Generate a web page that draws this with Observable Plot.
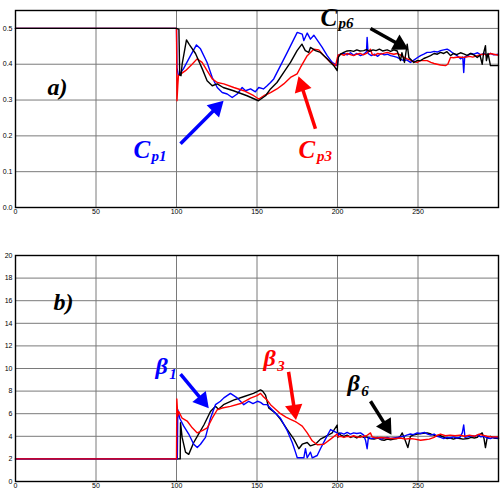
<!DOCTYPE html>
<html><head><meta charset="utf-8">
<script src="https://cdn.jsdelivr.net/npm/d3@7"></script>
<script src="https://cdn.jsdelivr.net/npm/@observablehq/plot@0.6"></script>
<style>
html,body{margin:0;padding:0;background:#fff;overflow:hidden;height:489px}
svg{display:block}
</style>
</head><body><div id="top"></div><div id="bottom"></div>
<script>
// ---- tick labels ----
const xTicks = [0, 50, 100, 150, 200, 250];
const cpTicks = [0, 0.1, 0.2, 0.3, 0.4, 0.5];
const betaTicks = [0, 2, 4, 6, 8, 10, 12, 14, 16, 18, 20];

// ---- panel a) power coefficients ----
const cp1 = [[0,0.5],[100,0.5],[100.3,0.39],[101.2,0.368],[104.3,0.387],[108.7,0.424],[112.4,0.454],[114.9,0.443],[119,0.405],[122.2,0.363],[125.3,0.335],[128.4,0.321],[131.5,0.317],[134.6,0.307],[137.7,0.317],[140.8,0.335],[142.9,0.326],[146,0.331],[149,0.323],[151.1,0.335],[154,0.331],[156.3,0.34],[158.4,0.349],[160.4,0.359],[164.6,0.396],[168.8,0.433],[172.9,0.47],[175,0.489],[178.1,0.484],[179.1,0.466],[181.2,0.487],[183.2,0.47],[185.3,0.481],[188.4,0.461],[190.5,0.447],[193.6,0.424],[196.7,0.405],[199.8,0.396],[200.5,0.425],[201.9,0.428],[204,0.43],[206,0.426],[208.1,0.432],[210,0.425],[212,0.43],[214.3,0.424],[216.3,0.428],[218,0.435],[218.4,0.475],[219,0.43],[221,0.424],[223,0.428],[225,0.422],[227,0.43],[229,0.426],[230.9,0.428],[233,0.424],[235,0.422],[237.1,0.419],[239,0.414],[241.2,0.41],[243,0.412],[245.3,0.405],[247,0.41],[249.5,0.418],[251.6,0.424],[253.6,0.428],[255.7,0.433],[257.8,0.433],[260,0.436],[262,0.434],[264,0.438],[266,0.44],[268.1,0.442],[270,0.437],[272,0.43],[274,0.425],[276.4,0.415],[277.8,0.42],[278.4,0.377],[279,0.42],[281,0.425],[283,0.43],[284.7,0.428],[287,0.432],[289,0.426],[291,0.43],[293,0.425],[295,0.43],[297,0.426],[300,0.428]];
const cp3 = [[0,0.5],[100,0.5],[100.3,0.298],[100.8,0.34],[101.2,0.368],[105.6,0.382],[109.7,0.4],[112.8,0.415],[115.9,0.405],[119,0.382],[122.2,0.359],[125.3,0.349],[129.4,0.345],[135.6,0.335],[141.8,0.326],[148,0.312],[151.1,0.303],[154.2,0.312],[158.4,0.321],[162.4,0.331],[166.6,0.345],[170.8,0.363],[174.9,0.373],[177,0.391],[181.2,0.424],[185.3,0.442],[188.4,0.44],[191.5,0.424],[195.7,0.405],[198.8,0.396],[200.3,0.425],[202,0.428],[204,0.425],[206,0.43],[208,0.427],[210,0.424],[212,0.428],[214,0.43],[216,0.426],[218,0.43],[220.5,0.442],[221.5,0.428],[223,0.425],[225,0.43],[227,0.428],[230.9,0.433],[233,0.43],[235,0.428],[237,0.43],[239,0.426],[241,0.42],[243.3,0.415],[245,0.412],[247,0.408],[249.5,0.405],[251.6,0.41],[253.6,0.41],[255.7,0.41],[258,0.405],[260,0.402],[261.9,0.4],[264,0.398],[267.1,0.396],[268.5,0.4],[270.2,0.419],[272,0.418],[275,0.42],[278.4,0.419],[280,0.42],[282,0.422],[284,0.42],[286.8,0.424],[289,0.427],[291,0.428],[293,0.425],[295,0.43],[297,0.428],[300,0.425]];
const cp6 = [[0,0.5],[100,0.5],[101.5,0.497],[102,0.37],[102.8,0.368],[103.5,0.4],[106.2,0.468],[108,0.455],[111.8,0.43],[116,0.387],[119,0.354],[122.2,0.34],[125.3,0.345],[129,0.335],[135.4,0.326],[143.8,0.312],[150.9,0.298],[155.3,0.312],[158.4,0.331],[162.4,0.349],[166.6,0.377],[170.8,0.405],[174.9,0.438],[177.9,0.456],[180,0.438],[182.1,0.433],[183.2,0.447],[186.3,0.438],[189.4,0.433],[193.6,0.415],[197.7,0.396],[199.8,0.382],[200.5,0.419],[201.9,0.428],[203.9,0.433],[206,0.437],[208.1,0.438],[210,0.436],[212,0.44],[214,0.437],[216.3,0.438],[218,0.441],[220,0.436],[222,0.44],[224,0.438],[226,0.442],[228,0.437],[230.9,0.44],[233,0.436],[235,0.44],[237.1,0.437],[239.1,0.41],[240,0.432],[241.6,0.405],[242.4,0.43],[243.3,0.456],[244.3,0.419],[247.4,0.405],[249.5,0.41],[251.6,0.41],[253.6,0.416],[255.7,0.42],[257.8,0.424],[260,0.43],[262,0.428],[264,0.433],[266,0.43],[268,0.435],[270.2,0.424],[272,0.43],[274,0.427],[276.4,0.432],[278.4,0.429],[280.5,0.425],[282.6,0.43],[284.7,0.426],[286.8,0.419],[288.5,0.425],[289.9,0.4],[290.7,0.43],[291.9,0.452],[292.5,0.41],[293.5,0.43],[295,0.396],[299.2,0.396],[300,0.397]];

// ---- panel b) pitch angles ----
const beta1 = [[0,2],[100.5,2],[100.8,6.35],[102,5.6],[104.5,4.9],[107.6,4.2],[110.7,3.3],[112.9,3.0],[114.9,3.3],[118,3.9],[121.1,5.6],[124.2,6.8],[127.3,7.1],[129.4,7.4],[133.5,7.8],[137.7,7.4],[141.8,6.8],[144.9,7.1],[147.5,6.9],[150.3,7.1],[152.2,7.0],[154,6.8],[156.3,6.8],[160.4,6.2],[164.6,5.6],[168.8,4.5],[171.9,3.45],[173.9,2.6],[175,2.1],[179.1,2.1],[180.1,2.9],[181.2,2.1],[183.2,2.6],[184.3,2.1],[187.4,2.3],[189.4,2.9],[192.5,3.75],[195.7,4.6],[199.8,4.3],[200.5,4.1],[202,4.3],[204,4.2],[206,4.35],[208,4.2],[210,4.3],[212,4.25],[214.3,4.3],[216.3,4.1],[217.5,3.6],[218.4,2.9],[219.2,3.9],[221,3.8],[223,3.85],[225,3.9],[227,3.75],[229,3.85],[231,3.9],[233,3.8],[235,3.85],[237,3.9],[239.1,3.95],[241,4.0],[243,4.1],[245.3,4.2],[247,4.15],[249.5,4.3],[251.6,4.25],[254,4.35],[256,4.2],[258,4.1],[260,4.2],[262,4.0],[264,3.9],[266,3.8],[268,3.9],[270,3.85],[272,3.95],[274,3.85],[276,3.9],[277.5,4.3],[278.4,5.0],[279.2,3.9],[281,3.95],[283,4.05],[285,4.0],[287,4.1],[289,3.95],[291,4.0],[293,3.85],[295,3.8],[297,3.9],[300,3.85]];
const beta3 = [[0,2],[100,2],[100.2,7.3],[100.8,5.8],[101.4,6.2],[103.5,5.6],[106.6,5.35],[109.8,4.75],[112.9,4.3],[116,4.5],[119.1,4.75],[122.2,5.6],[125.3,6.35],[128.4,6.5],[133.5,6.65],[139.8,6.9],[146,7.37],[150,7.6],[152.2,7.8],[154,7.5],[156.3,7.2],[158.4,6.8],[161.5,6.4],[164.6,6.0],[168,5.7],[170.8,5.5],[173.9,5.3],[175,5.2],[178.1,4.9],[181.2,4.3],[184.3,3.6],[187.4,3.25],[191.5,3.3],[195.7,3.75],[199.8,4.2],[200.3,3.95],[202,4.0],[204,3.9],[206,4.0],[208,3.95],[210,4.05],[212,3.95],[214,3.9],[216,4.0],[218,4.05],[220.5,4.3],[221.5,3.95],[224,3.85],[227,3.9],[230,3.85],[233,3.8],[236,3.8],[239,3.85],[242,3.75],[245,3.8],[248,3.75],[251.6,3.65],[254,3.7],[257,3.75],[260,3.9],[262,4.1],[264,4.2],[267,4.05],[270,4.1],[273,4.05],[276,4.1],[279,4.0],[282,4.1],[285,4.0],[288,4.2],[290,4.1],[293,4.0],[296,3.95],[300,3.95]];
const beta6 = [[0,2],[102.3,2],[102.5,5.2],[103.5,3.9],[105.6,2.6],[107.6,2.4],[110.7,3.45],[112.9,4.0],[117,5.0],[121.1,6.2],[124.2,6.65],[126.1,6.4],[129.2,6.8],[135.4,7.2],[141.6,7.5],[147.8,7.8],[152.2,8.1],[153.5,8.0],[155.3,7.65],[157.3,6.5],[161.5,6.05],[164.6,5.5],[168.8,4.6],[172.9,3.75],[176,2.9],[178.1,3.3],[181.2,3.45],[183.2,3.15],[186.3,3.3],[189.4,3.75],[193.6,4.05],[196.7,4.3],[199.8,5.0],[200.2,3.9],[201,4.3],[202,4.1],[204,4.0],[206,4.1],[208.1,3.9],[210,4.0],[212,3.85],[214,4.05],[216.3,3.9],[218,3.95],[220,3.8],[222.7,3.75],[225,3.85],[227,3.7],[229,3.65],[231,3.75],[233,3.7],[235,3.75],[237.1,3.8],[239,4.0],[240.2,4.3],[241.5,3.85],[243.7,3.0],[245.3,4.0],[247,4.1],[249.5,4.2],[252,4.25],[255.7,4.3],[258,4.2],[261.9,4.0],[264,4.05],[268.1,3.8],[270,3.85],[272,3.75],[274,3.85],[276,3.8],[278,3.75],[281,3.8],[283,3.9],[285,3.85],[286.8,3.9],[288,4.1],[289.9,4.3],[291,3.8],[291.9,3.0],[293,3.9],[295,4.0],[297,3.85],[300,3.8]];

// ---- annotations (data units) ----
const topTexts = [
  {t:"a)", x:19.9, y:0.313, s:24, c:"black"},
  {t:"C", x:73.3, y:0.139, s:25, c:"#0000ff"},
  {t:"p1", x:84.5, y:0.131, s:15, c:"#0000ff"},
  {t:"C", x:175.8, y:0.139, s:25, c:"#ff0000"},
  {t:"p3", x:187.2, y:0.131, s:15, c:"#ff0000"},
  {t:"C", x:189.4, y:0.508, s:25, c:"black"},
  {t:"p6", x:200.6, y:0.500, s:15, c:"black"}
];
const topArrows = [
  {x1:102.5, y1:0.178, x2:129.2, y2:0.298, c:"#0000ff"},
  {x1:186.3, y1:0.220, x2:175.8, y2:0.366, c:"#ff0000"},
  {x1:220.5, y1:0.500, x2:244.0, y2:0.441, c:"black"}
];
const botTexts = [
  {t:"b)", x:23.6, y:15.2, s:24, c:"black"},
  {t:"β", x:87.0, y:9.5, s:24, c:"#0000ff"},
  {t:"1", x:95.5, y:9.1, s:15, c:"#0000ff"},
  {t:"β", x:154.0, y:10.2, s:24, c:"#ff0000"},
  {t:"3", x:162.6, y:9.8, s:15, c:"#ff0000"},
  {t:"β", x:206.2, y:8.0, s:24, c:"black"},
  {t:"6", x:214.8, y:7.6, s:15, c:"black"}
];
const botArrows = [
  {x1:102.5, y1:9.5, x2:120.0, y2:6.5, c:"#0000ff"},
  {x1:169.6, y1:9.7, x2:174.2, y2:5.45, c:"#ff0000"},
  {x1:220.5, y1:7.1, x2:233.5, y2:4.15, c:"black"}
];

const rows = (arr, name) => arr.map(([x, y]) => ({x, y, name}));

function panel({lines, yDomain, yTicks, height, marginTop, marginBottom, texts, arrows}) {
  const W = 500, mL = 15, mR = 2;
  const plotH = height - marginTop - marginBottom;
  const kx = (W - mL - mR) / 300;
  const ky = plotH / (yDomain[1] - yDomain[0]);
  const tipDist = 10;
  const heads = arrows.map(a => {
    const dx = (a.x2 - a.x1) * kx, dy = -(a.y2 - a.y1) * ky;
    const L = Math.hypot(dx, dy), ux = dx / L, uy = dy / L;
    return {
      x1: a.x1, y1: a.y1,
      xc: a.x2 - ux * tipDist / kx,
      yc: a.y2 + uy * tipDist / ky,
      rot: Math.atan2(ux, -uy) * 180 / Math.PI,
      c: a.c
    };
  });
  return Plot.plot({
    width: W, height, marginLeft: mL, marginRight: mR, marginTop, marginBottom,
    x: {domain: [0, 300]},
    y: {domain: yDomain},
    style: {fontFamily: "'Liberation Sans', Arial, sans-serif", fontSize: "7px", background: "white", overflow: "visible", color: "#000"},
    marks: [
      Plot.gridX(xTicks, {stroke: "#7a7a7a", strokeOpacity: 1, strokeWidth: 1}),
      Plot.gridY(yTicks, {stroke: "#7a7a7a", strokeOpacity: 1, strokeWidth: 1}),
      Plot.axisX(xTicks, {tickSize: 0, tickPadding: 1.5, fontSize: 7, label: null}),
      Plot.axisY(yTicks, {tickSize: 0, tickPadding: 3, fontSize: 7, label: null}),
      ...lines.map(([data, color]) => Plot.line(data, {x: "x", y: "y", stroke: color, strokeWidth: 1.4, curve: "linear"})),
      Plot.frame({stroke: "black", strokeWidth: 1.4}),
      Plot.link(heads, {x1: "x1", y1: "y1", x2: "xc", y2: "yc", stroke: "c", strokeWidth: 3.5}),
      Plot.dot(heads, {x: "xc", y: "yc", symbol: "triangle", r: 6.5, fill: "c", stroke: "none", rotate: "rot"}),
      Plot.text(texts, {x: "x", y: "y", text: "t", fill: "c", fontSize: "s", textAnchor: "start", lineAnchor: "bottom",
        fontFamily: "'Liberation Serif', 'Times New Roman', serif", fontWeight: "bold", fontStyle: "italic"})
    ]
  });
}

document.getElementById("top").append(panel({
  lines: [[rows(cp1, "Cp1"), "#0000ff"], [rows(cp3, "Cp3"), "#ff0000"], [rows(cp6, "Cp6"), "black"]],
  yDomain: [0, 0.55], yTicks: cpTicks, height: 220, marginTop: 10, marginBottom: 13,
  texts: topTexts, arrows: topArrows
}));
document.getElementById("bottom").append(panel({
  lines: [[rows(beta6, "β6"), "black"], [rows(beta1, "β1"), "#0000ff"], [rows(beta3, "β3"), "#ff0000"]],
  yDomain: [0, 20], yTicks: betaTicks, height: 269, marginTop: 35, marginBottom: 8,
  texts: botTexts, arrows: botArrows
}));
</script>
</body></html>
